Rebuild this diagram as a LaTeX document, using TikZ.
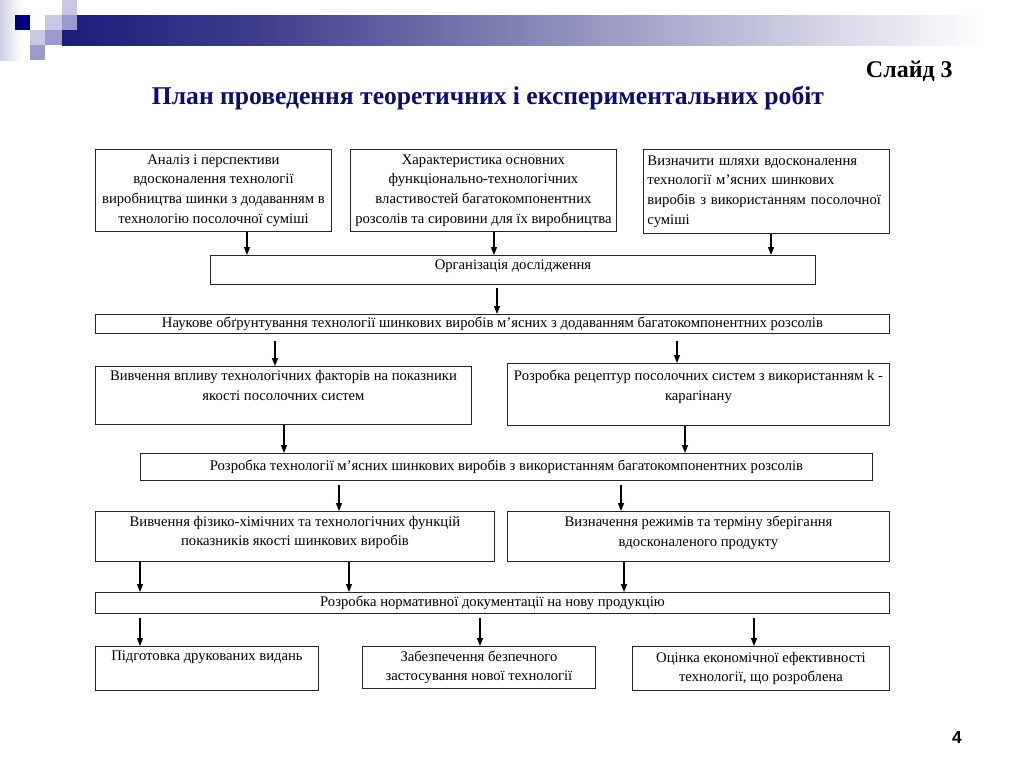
\documentclass[tikz,border=0pt]{standalone}
\usepackage{fontspec}
\setmainfont{Liberation Serif}
\newfontfamily\sansf{Liberation Sans}
\usetikzlibrary{arrows.meta}
\definecolor{navy}{RGB}{0,0,128}
\definecolor{titleblue}{RGB}{14,14,110}
\definecolor{sqlight}{RGB}{200,200,228}
\definecolor{sqmid}{RGB}{154,154,204}
\definecolor{bar1}{RGB}{28,28,125}
\definecolor{bar2}{RGB}{62,62,140}
\definecolor{bar3}{RGB}{236,236,242}
\definecolor{colfade}{RGB}{208,208,232}
\newcommand\bxf{\fontsize{11}{14.7}\selectfont}
\tikzset{
  box/.style={draw=black!85, line width=0.7pt, inner xsep=2pt, inner ysep=1.5pt, align=center, font=\bxf, anchor=north west},
  pbox/.style={draw=black!85, line width=0.7pt, inner sep=0pt, font=\bxf, anchor=north west},
  arr/.style={-{Triangle[length=6pt,width=4.5pt]}, line width=1pt, black}
}
\begin{document}
\begin{tikzpicture}[x=0.75pt,y=-0.75pt]
\useasboundingbox (0,0) rectangle (1024,768);
\fill[white] (0,0) rectangle (1024,768);
% header decoration
\shade[left color=colfade, right color=white] (0,0) rectangle (22,60);
\shade[left color=bar1, right color=bar2] (62,15) rectangle (261,45);
\shade[left color=bar2, middle color=bar3, right color=white] (260,15) rectangle (985,45);
\fill[navy] (15,15) rectangle (30,30);
\fill[sqlight] (45,15) rectangle (62,30);
\fill[sqmid] (62,15) rectangle (77,30);
\fill[sqlight] (62,0) rectangle (77,15);
\fill[sqlight] (30,30) rectangle (45,45);
\fill[sqmid] (45,30) rectangle (62,45);
\fill[sqmid] (30,45) rectangle (45,60);
% titles
\node[font=\bfseries\fontsize{18}{20}\selectfont, anchor=base east, inner sep=0pt] (slide) at (953,77) {Слайд 3};
\node[font=\bfseries\fontsize{19.2}{21}\selectfont, text=titleblue, anchor=base, inner sep=0pt] (title) at (488,104) {План проведення теоретичних і експериментальних робіт};
\node[font=\sansf\bfseries\fontsize{13}{14}\selectfont, anchor=base, inner sep=0pt] (pg) at (957,743) {4};
% row 1
\node[box, minimum width=177pt, minimum height=61.5pt] (A) at (95,149) {Аналіз і перспективи\\ вдосконалення технології\\ виробництва шинки з додаванням в\\ технологію посолочної суміші};
\node[box, minimum width=199.5pt, minimum height=61.5pt] (B) at (350,149) {Характеристика основних\\ функціонально-технологічних\\ властивостей багатокомпонентних\\ розсолів та сировини для їх виробництва};
\node[box, minimum width=184.5pt, minimum height=63pt, text width=178.5pt, inner xsep=3pt, align=left] (C) at (643,149) {Визначити шляхи вдосконалення\\ технології м’ясних шинкових\\ виробів з використанням посолочної\\ суміші};
% organisation
\node[pbox] (org) at (210,255) {\parbox[c][21.75pt][t]{453.75pt}{\centering\vspace*{3pt}Організація дослідження}};
\node[box, minimum width=595.5pt, minimum height=14.25pt, inner ysep=0.5pt] (D) at (95,314) {Наукове обґрунтування технології шинкових виробів м’ясних з додаванням багатокомпонентних розсолів};
% row E F
\node[pbox] (E) at (95,366) {\parbox[c][43.5pt][t]{282pt}{\centering\vspace*{3pt}Вивчення впливу технологічних факторів на показники\\ якості посолочних систем}};
\node[pbox] (F) at (507,363) {\parbox[c][46.5pt][t]{286.5pt}{\centering\vspace*{5pt}Розробка рецептур посолочних систем з використанням k -\\ карагінану}};
\node[box, minimum width=549pt, minimum height=20.25pt] (G) at (140,453) {Розробка технології м’ясних шинкових виробів з використанням багатокомпонентних розсолів};
% row H I
\node[pbox] (H) at (95,511) {\parbox[c][37.5pt][t]{299.25pt}{\centering\vspace*{3.5pt}Вивчення фізико-хімічних та технологічних функцій\\ показників якості шинкових виробів}};
\node[pbox] (I) at (507,511) {\parbox[c][37.5pt][t]{286.5pt}{\centering\vspace*{3.5pt}Визначення режимів та терміну зберігання\\ вдосконаленого продукту}};
\node[box, minimum width=595.5pt, minimum height=15.75pt, inner ysep=0.5pt] (J) at (95,592) {Розробка нормативної документації на нову продукцію};
% bottom row
\node[pbox] (K) at (95,646) {\parbox[c][33pt][t]{167.25pt}{\centering\vspace*{3.5pt}Підготовка друкованих видань}};
\node[box, minimum width=174.75pt, minimum height=31.5pt] (L) at (362,646) {Забезпечення безпечного\\ застосування нової технології};
\node[box, minimum width=192.75pt, minimum height=33pt] (M) at (632,646) {Оцінка економічної ефективності\\ технології, що розроблена};
% arrow columns
\coordinate (x1) at (247,0);
\coordinate (x2) at (494,0);
\coordinate (x3) at (771,0);
\coordinate (x4) at (497,0);
\coordinate (x5) at (275,0);
\coordinate (x6) at (677,0);
\coordinate (x7) at (284,0);
\coordinate (x8) at (685,0);
\coordinate (x9) at (339,0);
\coordinate (x10) at (621,0);
\coordinate (x11) at (140,0);
\coordinate (x12) at (349,0);
\coordinate (x13) at (624,0);
\coordinate (x14) at (140,0);
\coordinate (x15) at (480,0);
\coordinate (x16) at (754,0);
\draw[arr] (x1 |- A.south) -- (x1 |- org.north);
\draw[arr] (x2 |- B.south) -- (x2 |- org.north);
\draw[arr] (x3 |- C.south) -- (x3 |- org.north);
\draw[arr, shorten <=2pt] (x4 |- org.south) -- (x4 |- D.north);
\draw[arr, shorten <=5pt] (x5 |- D.south) -- (x5 |- E.north);
\draw[arr, shorten <=5pt] (x6 |- D.south) -- (x6 |- F.north);
\draw[arr] (x7 |- E.south) -- (x7 |- G.north);
\draw[arr] (x8 |- F.south) -- (x8 |- G.north);
\draw[arr, shorten <=3pt] (x9 |- G.south) -- (x9 |- H.north);
\draw[arr, shorten <=3pt] (x10 |- G.south) -- (x10 |- I.north);
\draw[arr] (x11 |- H.south) -- (x11 |- J.north);
\draw[arr] (x12 |- H.south) -- (x12 |- J.north);
\draw[arr] (x13 |- I.south) -- (x13 |- J.north);
\draw[arr, shorten <=3pt] (x14 |- J.south) -- (x14 |- K.north);
\draw[arr, shorten <=3pt] (x15 |- J.south) -- (x15 |- L.north);
\draw[arr, shorten <=3pt] (x16 |- J.south) -- (x16 |- M.north);
\end{tikzpicture}
\end{document}
